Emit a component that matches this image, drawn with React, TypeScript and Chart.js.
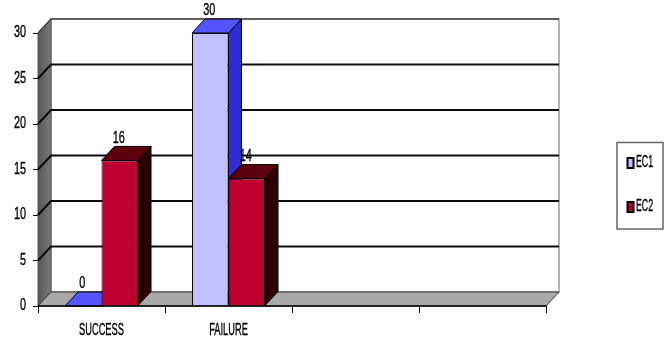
import { useEffect, useRef } from "react";
import { Chart, registerables } from "chart.js";

Chart.register(...registerables);

const categories = ["SUCCESS", "FAILURE", "", ""];
const ec1Values = [0, 30, null, null];
const ec2Values = [16, 14, null, null];
const seriesNames = ["EC1", "EC2"];
const frontColors = ["#C0C0FF", "#BE0030"];
const topColors = ["#5555FF", "#5C000E"];
const sideColors = ["#2C2CD8", "#2A0004"];

const FONT = '"Liberation Sans", Arial, sans-serif';
const DEPTH_X = 13;
const DEPTH_Y = 14;

function polygon(ctx: CanvasRenderingContext2D, pts: number[][], fill: string | CanvasGradient, stroke = "#000", lw = 1) {
  ctx.beginPath();
  pts.forEach(([x, y], i) => (i ? ctx.lineTo(x, y) : ctx.moveTo(x, y)));
  ctx.closePath();
  ctx.fillStyle = fill;
  ctx.fill();
  if (lw > 0) {
    ctx.strokeStyle = stroke;
    ctx.lineWidth = lw;
    ctx.stroke();
  }
}

// Condensed text: no narrow face is installed, so a regular face is squeezed horizontally.
function narrowText(
  ctx: CanvasRenderingContext2D,
  text: string,
  x: number,
  y: number,
  align: CanvasTextAlign,
  size: number,
  squeeze: number,
) {
  ctx.save();
  ctx.translate(x, y);
  ctx.scale(squeeze, 1);
  ctx.font = `${size}px ${FONT}`;
  ctx.textAlign = align;
  ctx.textBaseline = "middle";
  ctx.fillStyle = "#000";
  ctx.strokeStyle = "#000";
  ctx.lineWidth = 0.35;
  ctx.fillText(text, 0, 0);
  ctx.strokeText(text, 0, 0);
  ctx.restore();
}

// Back wall, side wall, floor and the gridlines that wrap around them.
const wallsPlugin = {
  id: "walls",
  beforeDatasetsDraw(chart: any) {
    const { ctx, chartArea: a, scales } = chart;
    const y = scales.y;
    ctx.save();
    polygon(ctx, [[a.left + DEPTH_X, a.top - DEPTH_Y], [a.right + DEPTH_X, a.top - DEPTH_Y], [a.right + DEPTH_X, a.bottom - DEPTH_Y], [a.left + DEPTH_X, a.bottom - DEPTH_Y]], "#FFFFFF", "#9A9A9A", 1.5);
    const wall = ctx.createLinearGradient(a.left, 0, a.left + DEPTH_X, 0);
    wall.addColorStop(0, "#565656");
    wall.addColorStop(1, "#7A7A7A");
    polygon(ctx, [[a.left, a.top], [a.left + DEPTH_X, a.top - DEPTH_Y], [a.left + DEPTH_X, a.bottom - DEPTH_Y], [a.left, a.bottom]], wall, "#555", 1);
    polygon(ctx, [[a.left, a.bottom], [a.left + DEPTH_X, a.bottom - DEPTH_Y], [a.right + DEPTH_X, a.bottom - DEPTH_Y], [a.right, a.bottom]], "#A9A9A9", "#333", 1);
    y.ticks.forEach((t: any) => {
      if (t.value === 0) return;
      const py = y.getPixelForValue(t.value);
      ctx.beginPath();
      ctx.moveTo(a.left, py);
      ctx.lineTo(a.left + DEPTH_X, py - DEPTH_Y);
      ctx.lineTo(a.right + DEPTH_X, py - DEPTH_Y);
      ctx.strokeStyle = t.value === 30 ? "#444" : "#0A0A0A";
      ctx.lineWidth = t.value === 30 ? 1.5 : 2;
      ctx.stroke();
    });
    // Top and side faces of each bar; fronts are painted over these by the bar elements.
    chart.data.datasets.forEach((ds: any, di: number) => {
      chart.getDatasetMeta(di).data.forEach((bar: any, i: number) => {
        if (ds.data[i] === null) return;
        const l = bar.x - bar.width / 2;
        const r = bar.x + bar.width / 2;
        const top = bar.y;
        polygon(ctx, [[r, top], [r + DEPTH_X, top - DEPTH_Y], [r + DEPTH_X, bar.base - DEPTH_Y], [r, bar.base]], sideColors[di]);
        polygon(ctx, [[l, top], [l + DEPTH_X, top - DEPTH_Y], [r + DEPTH_X, top - DEPTH_Y], [r, top]], topColors[di]);
      });
    });
    ctx.restore();
  },
  afterDatasetsDraw(chart: any) {
    const { ctx, chartArea: a, scales } = chart;
    ctx.save();
    // Front edge of the floor.
    ctx.beginPath();
    ctx.moveTo(a.left, a.bottom);
    ctx.lineTo(a.right, a.bottom);
    ctx.strokeStyle = "#000";
    ctx.lineWidth = 1.5;
    ctx.stroke();
    // Axis labels.
    scales.y.ticks.forEach((t: any) => {
      narrowText(ctx, String(t.value), 26, scales.y.getPixelForValue(t.value), "right", 16, 0.68);
    });
    categories.forEach((c, i) => {
      if (c) narrowText(ctx, c, scales.x.getPixelForValue(i), 331, "center", 16, 0.58);
    });
    // Value labels above each bar.
    chart.data.datasets.forEach((ds: any, di: number) => {
      chart.getDatasetMeta(di).data.forEach((bar: any, i: number) => {
        const v = ds.data[i];
        if (v === null) return;
        narrowText(ctx, String(v), bar.x - 1, bar.y - DEPTH_Y - 8, "center", 16, 0.68);
      });
    });
    // Legend box.
    polygon(ctx, [[617, 142.5], [663, 142.5], [663, 229], [617, 229]], "#FFFFFF", "#666", 1.5);
    seriesNames.forEach((name, i) => {
      const cy = 163 + i * 44;
      ctx.fillStyle = frontColors[i];
      ctx.strokeStyle = "#000";
      ctx.lineWidth = 2;
      ctx.fillRect(627.5, cy - 5, 6, 10);
      ctx.strokeRect(627.5, cy - 5, 6, 10);
      narrowText(ctx, name, 636, cy, "left", 16, 0.55);
    });
    ctx.restore();
  },
};

export default function App() {
  const canvasRef = useRef<HTMLCanvasElement>(null);

  useEffect(() => {
    document.body.style.margin = "0";
    const chart = new Chart(canvasRef.current!, {
      type: "bar",
      data: {
        labels: categories,
        datasets: [
          { label: seriesNames[0], data: ec1Values, backgroundColor: frontColors[0], borderColor: "#000", borderWidth: 1 },
          { label: seriesNames[1], data: ec2Values, backgroundColor: frontColors[1], borderColor: "#000", borderWidth: 1 },
        ],
      },
      options: {
        responsive: false,
        animation: false,
        events: [],
        layout: { padding: { top: 33, right: 122, left: 0, bottom: 0 } },
        datasets: { bar: { categoryPercentage: 0.575, barPercentage: 1 } },
        plugins: { legend: { display: false }, tooltip: { enabled: false } },
        scales: {
          x: {
            afterFit: (s: any) => { s.height = 39; },
            border: { display: false },
            grid: { offset: true, drawOnChartArea: false, drawTicks: true, tickLength: 7, color: "#000", lineWidth: 1 },
            ticks: { display: false, autoSkip: false },
          },
          y: {
            min: 0,
            max: 30,
            afterFit: (s: any) => { s.width = 38; },
            border: { display: false },
            grid: { drawOnChartArea: false, drawTicks: true, tickLength: 5, color: "#000", lineWidth: 1 },
            ticks: { display: false, stepSize: 5 },
          },
        },
      },
      plugins: [wallsPlugin],
    } as any);
    return () => chart.destroy();
  }, []);

  return <canvas ref={canvasRef} width={668} height={345} style={{ display: "block" }} />;
}
